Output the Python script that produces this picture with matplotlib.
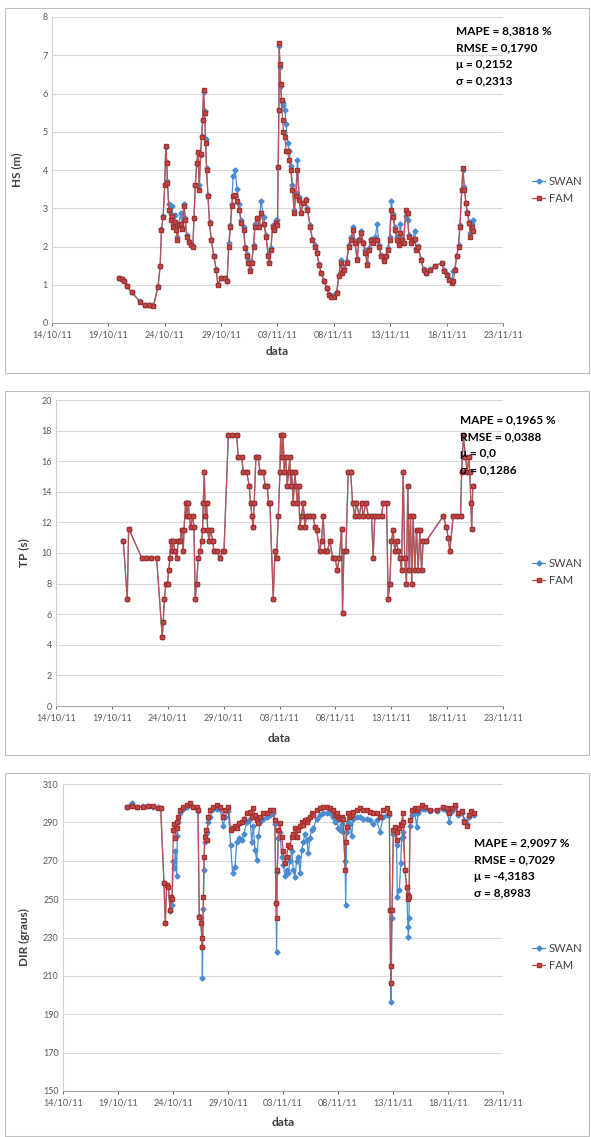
import matplotlib
matplotlib.use('Agg')
import matplotlib.pyplot as plt
import matplotlib.dates as mdates
from matplotlib.patches import Rectangle
import pandas as pd

plt.rcParams['font.family'] = ['Lato', 'DejaVu Sans']

# ---- data (days counted from 14/10/11) ----
hs_day = [5.94, 6.18, 6.41, 6.62, 7.06, 7.80, 8.24, 8.59, 9.00, 9.41, 9.59, 9.71, 9.86, 10.00,
          10.09, 10.18, 10.24, 10.36, 10.53, 10.65, 10.74, 10.88, 11.03, 11.12, 11.24, 11.41,
          11.53, 11.71, 11.82, 11.94, 12.12, 12.30, 12.50, 12.59, 12.71, 12.83, 12.94, 13.06,
          13.18, 13.27, 13.36, 13.44, 13.53, 13.62, 13.71, 13.83, 13.97, 14.12, 14.36, 14.56,
          14.71, 15.00, 15.30, 15.53, 15.68, 15.83, 15.94, 16.06, 16.24, 16.41, 16.62, 16.76,
          17.00, 17.12, 17.30, 17.41, 17.59, 17.71, 17.88, 18.00, 18.18, 18.38, 18.53, 18.77,
          18.98, 19.18, 19.27, 19.42, 19.56, 19.71, 19.86, 20.00, 20.06, 20.12, 20.15, 20.21,
          20.27, 20.36, 20.45, 20.53, 20.65, 20.77, 20.89, 21.04, 21.18, 21.33, 21.48, 21.62,
          21.77, 21.92, 22.06, 22.30, 22.50, 22.65, 22.89, 23.09, 23.30, 23.47, 23.68, 23.88,
          24.12, 24.36, 24.56, 24.77, 25.00, 25.24, 25.45, 25.59, 25.74, 25.89, 26.12, 26.33,
          26.53, 26.71, 26.86, 27.06, 27.24, 27.42, 27.59, 27.80, 27.95, 28.12, 28.30, 28.47,
          28.68, 28.83, 29.00, 29.18, 29.42, 29.59, 29.77, 29.95, 30.09, 30.24, 30.42, 30.59,
          30.74, 30.89, 31.04, 31.18, 31.36, 31.54, 31.65, 31.83, 32.00, 32.18, 32.30, 32.50,
          32.71, 32.95, 33.18, 33.53, 33.98, 34.56, 34.77, 35.00, 35.24, 35.45, 35.59, 35.74,
          35.89, 36.06, 36.18, 36.34, 36.44, 36.58, 36.71, 36.84, 37.00, 37.10, 37.25, 37.33]
hs_fam = [1.17, 1.15, 1.09, 0.97, 0.80, 0.56, 0.48, 0.46, 0.45, 0.95, 1.48, 2.43, 2.78, 3.61,
          4.63, 4.17, 3.65, 2.95, 2.70, 2.80, 2.52, 2.65, 2.43, 2.17, 2.55, 2.60,
          2.45, 3.05, 2.70, 2.26, 2.13, 2.04, 2.00, 2.74, 3.61, 4.17, 4.47, 3.48,
          4.43, 4.87, 5.31, 6.09, 5.48, 4.70, 4.00, 3.31, 2.61, 2.17, 1.74, 1.39,
          1.00, 1.17, 1.17, 1.09, 2.00, 2.52, 3.05, 3.31, 3.35, 3.18, 2.96, 2.61,
          2.43, 1.96, 1.74, 1.57, 1.35, 1.57, 2.00, 2.52, 2.74, 2.52, 2.87, 2.60,
          2.26, 1.74, 1.57, 1.91, 2.52, 2.43, 2.61, 2.55, 4.09, 5.57, 7.31, 6.78,
          6.26, 5.83, 5.30, 5.00, 4.87, 4.49, 4.49, 4.26, 4.00, 3.48, 2.87, 3.31,
          4.00, 3.22, 2.87, 3.13, 3.22, 2.96, 2.52, 2.17, 2.00, 1.83, 1.52, 1.30,
          1.09, 0.91, 0.74, 0.68, 0.68, 0.78, 1.22, 1.57, 1.30, 1.39, 1.57, 2.00,
          2.17, 2.43, 2.09, 1.65, 2.17, 2.35, 2.09, 1.83, 1.52, 1.91, 2.17, 2.09,
          2.17, 2.17, 2.00, 1.74, 1.61, 1.74, 1.91, 2.17, 2.96, 2.78, 2.43, 2.17,
          2.04, 2.35, 2.17, 2.09, 2.96, 2.87, 2.26, 2.09, 2.17, 2.20, 1.91, 2.00,
          1.65, 1.39, 1.30, 1.39, 1.48, 1.57, 1.35, 1.26, 1.13, 1.05, 1.09, 1.39,
          1.74, 2.00, 2.52, 3.48, 4.05, 3.48, 3.13, 2.87, 2.61, 2.26, 2.52, 2.40]
hs_swan = [1.17, 1.16, 1.10, 0.97, 0.80, 0.57, 0.48, 0.46, 0.46, 0.98, 1.50, 2.45, 2.80, 3.63,
           4.60, 4.20, 3.70, 3.10, 2.85, 3.05, 2.60, 2.82, 2.50, 2.25, 2.60, 2.87,
           2.52, 3.10, 2.75, 2.30, 2.15, 2.06, 2.02, 2.74, 3.60, 4.15, 4.45, 3.60,
           4.40, 4.90, 5.30, 6.05, 5.55, 4.80, 4.05, 3.35, 2.65, 2.20, 1.75, 1.40,
           1.02, 1.17, 1.18, 1.10, 2.10, 2.55, 3.10, 3.84, 4.00, 3.50, 3.10, 2.70,
           2.50, 2.00, 1.80, 1.65, 1.40, 1.60, 2.05, 2.60, 2.74, 2.55, 3.20, 2.78,
           2.30, 1.80, 1.60, 1.95, 2.55, 2.45, 2.70, 2.70, 4.09, 5.57, 7.25, 6.70,
           6.20, 5.80, 5.70, 5.74, 5.57, 5.20, 4.70, 4.50, 4.10, 3.60, 2.95, 3.40,
           4.26, 3.30, 2.90, 3.15, 3.25, 3.00, 2.55, 2.20, 2.05, 1.85, 1.55, 1.32,
           1.10, 0.92, 0.76, 0.70, 0.72, 0.80, 1.25, 1.65, 1.35, 1.45, 1.62, 2.05,
           2.25, 2.50, 2.15, 1.70, 2.20, 2.40, 2.12, 1.90, 1.58, 1.95, 2.20, 2.15,
           2.25, 2.60, 2.05, 1.78, 1.65, 1.76, 1.95, 2.25, 3.20, 2.85, 2.50, 2.25,
           2.10, 2.60, 2.20, 2.10, 2.80, 2.70, 2.30, 2.12, 2.20, 2.40, 1.95, 2.02,
           1.68, 1.40, 1.32, 1.40, 1.50, 1.58, 1.38, 1.28, 1.15, 1.10, 1.35, 1.42,
           1.76, 2.05, 2.55, 3.50, 4.00, 3.55, 3.15, 2.90, 2.65, 2.35, 2.60, 2.70]

tp_day = [6.02, 6.38, 6.50, 7.66, 8.05, 8.50, 9.00, 9.51, 9.60, 9.69, 9.84, 9.99, 10.08, 10.20,
          10.26, 10.38, 10.50, 10.64, 10.80, 10.94, 11.09, 11.24, 11.39, 11.45, 11.60, 11.69,
          11.84, 11.93, 12.05, 12.23, 12.34, 12.46, 12.58, 12.73, 12.88, 13.03, 13.12, 13.18,
          13.27, 13.36, 13.48, 13.57, 13.69, 13.84, 14.02, 14.13, 14.37, 14.67, 14.91, 15.03,
          15.42, 15.72, 16.16, 16.31, 16.61, 16.76, 17.06, 17.29, 17.41, 17.53, 17.65, 17.74,
          17.89, 18.10, 18.25, 18.55, 18.72, 18.90, 19.02, 19.14, 19.44, 19.59, 19.74, 19.89,
          20.04, 20.10, 20.24, 20.33, 20.42, 20.57, 20.69, 20.81, 20.93, 20.99, 21.08, 21.23,
          21.38, 21.47, 21.59, 21.71, 21.82, 21.97, 22.12, 22.27, 22.42, 22.72, 23.02, 23.17,
          23.32, 23.61, 23.76, 23.91, 24.06, 24.27, 24.51, 24.75, 24.96, 25.17, 25.35, 25.56,
          25.64, 25.76, 25.94, 26.15, 26.36, 26.54, 26.74, 26.89, 27.13, 27.34, 27.49, 27.73,
          27.94, 28.24, 28.38, 28.53, 28.83, 29.13, 29.28, 29.58, 29.72, 29.87, 30.02, 30.17,
          30.32, 30.47, 30.62, 30.77, 30.92, 31.07, 31.20, 31.36, 31.48, 31.60, 31.72, 31.84,
          31.96, 32.11, 32.26, 32.41, 32.56, 32.71, 32.86, 33.15, 34.64, 34.94, 35.09, 35.24,
          35.54, 35.84, 36.20, 36.30, 36.46, 36.63, 36.80, 36.94, 37.03, 37.12, 37.20, 37.30]
tp_fam = [10.8, 7.0, 11.6, 9.7, 9.7, 9.7, 9.7, 4.5, 5.5, 7.0, 8.0, 8.0, 8.9, 9.7,
          10.8, 10.1, 10.8, 10.1, 9.7, 10.8, 10.8, 11.5, 10.1, 11.5, 13.3, 12.4,
          13.3, 12.4, 11.7, 12.4, 11.7, 7.0, 8.0, 9.7, 10.1, 10.8, 11.5, 13.3,
          15.3, 12.4, 13.3, 11.5, 10.8, 11.5, 10.8, 10.1, 10.1, 9.7, 10.1, 10.1,
          17.7, 17.7, 17.7, 16.3, 16.3, 15.3, 15.3, 14.4, 13.3, 12.4, 11.7, 13.3,
          16.3, 16.3, 15.3, 15.3, 14.4, 14.4, 13.3, 13.3, 7.0, 10.1, 9.7, 12.4,
          15.3, 17.7, 16.3, 17.7, 15.3, 16.3, 14.4, 15.3, 16.3, 14.4, 15.3, 13.3,
          15.3, 14.4, 13.3, 14.4, 11.7, 12.4, 13.3, 11.7, 12.4, 12.4, 12.4, 11.7,
          11.5, 10.1, 10.8, 12.4, 10.1, 10.1, 10.8, 9.7, 9.7, 8.9, 9.7, 11.6,
          6.1, 10.1, 10.1, 15.3, 15.3, 13.3, 12.4, 13.3, 12.4, 13.3, 12.4, 13.3,
          12.4, 12.4, 9.7, 12.4, 12.4, 12.4, 13.3, 13.3, 7.0, 8.0, 10.8, 11.5,
          10.1, 10.8, 10.1, 9.7, 8.9, 15.3, 9.7, 8.0, 14.4, 8.9, 12.4, 8.0,
          12.4, 8.9, 11.5, 8.9, 11.5, 8.9, 10.8, 10.8, 12.4, 11.7, 11.0, 10.1,
          12.4, 12.4, 12.4, 15.3, 17.7, 16.3, 15.3, 16.3, 15.3, 13.3, 11.6, 14.4]
# SWAN and FAM periods sit on top of each other in the picture
tp_swan = list(tp_fam)

dir_day = [5.79, 6.24, 6.70, 7.30, 7.76, 8.21, 8.67, 8.88, 9.18, 9.30, 9.42, 9.58, 9.73, 9.82,
           9.91, 10.03, 10.12, 10.21, 10.33, 10.39, 10.48, 10.64, 10.94, 11.24, 11.55, 11.85,
           12.15, 12.27, 12.39, 12.52, 12.64, 12.67, 12.76, 12.82, 12.88, 12.97, 13.06, 13.21,
           13.36, 13.67, 13.97, 14.27, 14.58, 14.73, 15.03, 15.24, 15.42, 15.64, 15.79, 16.03,
           16.24, 16.45, 16.70, 17.00, 17.15, 17.30, 17.45, 17.61, 17.76, 17.91, 18.21, 18.52,
           18.82, 19.12, 19.27, 19.36, 19.42, 19.48, 19.58, 19.73, 19.88, 20.03, 20.18, 20.33,
           20.48, 20.64, 20.79, 20.94, 21.09, 21.24, 21.39, 21.55, 21.70, 21.85, 22.00, 22.15,
           22.30, 22.45, 22.61, 22.76, 23.06, 23.36, 23.67, 23.97, 24.27, 24.58, 24.73, 24.88,
           25.03, 25.18, 25.33, 25.48, 25.64, 25.70, 25.79, 25.94, 26.09, 26.24, 26.39, 26.70,
           27.00, 27.30, 27.61, 27.91, 28.21, 28.52, 28.82, 29.12, 29.42, 29.67, 29.73, 29.79,
           29.82, 29.91, 30.03, 30.18, 30.33, 30.39, 30.58, 30.70, 30.79, 30.88, 30.94, 31.09,
           31.24, 31.36, 31.39, 31.45, 31.55, 31.70, 32.00, 32.15, 32.30, 32.61, 32.91, 33.36,
           33.97, 34.58, 34.88, 35.12, 35.33, 35.64, 35.94, 36.30, 36.50, 36.70, 36.90, 37.10,
           37.40]
dir_fam = [298.2, 298.5, 298.2, 298.0, 298.5, 298.5, 297.5, 297.3, 258.3, 237.4, 257.4, 256.5, 244.4, 251.0,
           250.0, 286.0, 289.0, 282.0, 287.0, 290.0, 293.0, 296.5, 298.2, 299.0, 300.0, 298.2,
           298.2, 296.5, 240.9, 237.4, 230.0, 225.0, 251.3, 272.0, 282.6, 286.0, 280.8, 293.0,
           296.5, 298.2, 299.0, 298.2, 293.0, 296.5, 298.2, 286.0, 287.0, 288.0, 287.0, 289.5,
           290.4, 292.0, 294.7, 295.6, 293.0, 297.3, 294.0, 291.0, 289.5, 293.0, 294.7, 294.7,
           296.5, 296.5, 291.2, 247.8, 240.0, 265.2, 286.0, 289.5, 282.6, 275.0, 268.7, 272.0,
           278.0, 277.4, 282.6, 284.0, 287.0, 282.6, 286.0, 288.0, 290.0, 288.6, 291.2, 290.0,
           292.0, 293.0, 294.7, 294.0, 296.5, 297.3, 298.2, 298.2, 297.3, 296.5, 294.0, 294.7,
           293.0, 292.0, 293.0, 292.0, 265.2, 280.0, 287.8, 294.7, 293.0, 294.0, 295.6, 296.5,
           297.3, 296.5, 296.5, 295.6, 294.7, 294.7, 293.0, 296.5, 297.3, 294.7, 244.4, 206.2,
           215.0, 244.4, 286.0, 287.8, 280.8, 285.0, 287.0, 289.0, 288.6, 294.7, 290.0, 265.2,
           256.5, 252.0, 250.0, 251.3, 291.2, 296.5, 297.3, 296.5, 297.3, 299.0, 298.2, 296.5,
           296.5, 298.2, 297.3, 295.0, 297.3, 299.0, 295.0, 296.0, 290.0, 288.0, 294.0, 296.0,
           295.0]
dir_swan = [298.2, 300.0, 298.2, 298.5, 298.5, 298.0, 297.8, 297.3, 258.3, 237.4, 257.4, 256.5, 244.0, 251.0,
            247.0, 270.0, 266.0, 275.0, 262.0, 283.0, 290.0, 295.0, 297.0, 298.0, 299.0, 298.0,
            297.5, 296.0, 241.0, 240.0, 225.0, 208.8, 245.0, 265.0, 280.0, 284.0, 285.0, 290.0,
            293.0, 297.0, 297.0, 297.0, 288.0, 293.0, 296.0, 278.0, 263.5, 267.0, 280.0, 282.0,
            281.0, 284.0, 290.0, 292.0, 280.0, 288.0, 275.6, 270.4, 283.0, 290.0, 292.0, 293.0,
            294.0, 295.0, 289.0, 248.0, 222.7, 264.0, 282.0, 285.0, 272.0, 268.0, 262.0, 265.0,
            263.5, 270.0, 275.0, 265.2, 261.7, 270.0, 272.0, 263.5, 275.6, 280.0, 284.0, 280.8,
            273.9, 282.0, 286.0, 286.9, 292.0, 294.0, 294.7, 295.0, 295.0, 293.0, 290.4, 291.0,
            286.9, 286.0, 289.0, 285.0, 270.0, 247.0, 285.0, 290.0, 289.0, 283.0, 292.0, 293.0,
            293.0, 292.0, 292.0, 291.0, 289.0, 291.0, 285.0, 293.0, 294.0, 294.0, 244.4, 206.2,
            196.6, 240.0, 284.0, 286.0, 278.0, 251.3, 254.8, 268.7, 282.0, 285.0, 282.6, 265.0,
            256.0, 235.7, 230.5, 240.0, 288.0, 294.0, 295.0, 287.8, 295.0, 297.0, 297.0, 296.0,
            296.0, 297.0, 296.0, 290.4, 296.0, 298.0, 294.0, 295.0, 291.0, 289.0, 293.0, 295.0,
            294.0]

panels = [
    dict(day=hs_day, swan=hs_swan, fam=hs_fam, ylabel='HS (m)', ylim=(0, 8), step=1,
         stats=['MAPE = 8,3818 %', 'RMSE = 0,1790', '\u03bc = 0,2152', '\u03c3 = 0,2313']),
    dict(day=tp_day, swan=tp_swan, fam=tp_fam, ylabel='TP (s)', ylim=(0, 20), step=2,
         stats=['MAPE = 0,1965 %', 'RMSE = 0,0388', '\u03bc = 0,0', '\u03c3 = 0,1286']),
    dict(day=dir_day, swan=dir_swan, fam=dir_fam, ylabel='DIR (graus)', ylim=(150, 310), step=20,
         stats=['MAPE = 2,9097 %', 'RMSE = 0,7029', '\u03bc = -4,3183', '\u03c3 = 8,8983']),
]

# pixel layout of the three chart boxes (left, top, right, bottom)
W, H = 591, 1137
frames = [(5, 8, 589, 373), (5, 391, 589, 755), (5, 773, 589, 1136)]
plots = [(52, 17, 503, 323), (56, 400, 503, 706), (63, 784, 503, 1091)]
stat_xy = [(456, 31), (460, 420), (474, 843)]
legend_y = [190, 572, 957]
label_x = [17, 24, 24]
data_y = [352, 739, 1123]

swan_c = '#4A8CD0'
fam_c = '#C0504D'
grid_c = '#D9D9D9'
text_c = '#595959'

fig = plt.figure(figsize=(W / 100, H / 100), dpi=100)
start = pd.Timestamp('2011-10-14')
ticks = pd.date_range('2011-10-14', '2011-11-23', freq='5D')

for p, fr, pl, sxy, ly, lx, dy in zip(panels, frames, plots, stat_xy, legend_y, label_x, data_y):
    l, t, r, b = fr
    fig.patches.append(Rectangle((l / W, 1 - b / H), (r - l) / W, (b - t) / H,
                                 transform=fig.transFigure, fill=False,
                                 edgecolor='#BFBFBF', linewidth=0.8))
    l, t, r, b = pl
    ax = fig.add_axes([l / W, 1 - b / H, (r - l) / W, (b - t) / H])
    x = start + pd.to_timedelta(p['day'], unit='D')
    ax.plot(x, p['swan'], color=swan_c, lw=0.9, marker='D', ms=2.6, mec=swan_c, label='SWAN')
    ax.plot(x, p['fam'], color=fam_c, lw=0.9, marker='s', ms=2.6, mec='#A5302D', mfc=fam_c, label='FAM')

    lo, hi = p['ylim']
    ax.set_ylim(lo, hi)
    ax.set_yticks(range(lo, hi + 1, p['step']))
    ax.set_xlim(ticks[0], ticks[-1])
    ax.set_xticks(ticks)
    ax.xaxis.set_major_formatter(mdates.DateFormatter('%d/%m/%y'))
    ax.grid(axis='y', color=grid_c, lw=0.8)
    ax.set_axisbelow(True)
    for s in ['top', 'right']:
        ax.spines[s].set_visible(False)
    ax.spines['left'].set_color('#D0D0D0')
    ax.spines['bottom'].set_color('#A6A6A6')
    ax.tick_params(axis='both', labelsize=6.5, colors=text_c, length=2.5, width=0.6, pad=3)
    ax.tick_params(axis='y', length=0)

    fig.text(lx / W, 1 - ((t + b) / 2) / H, p['ylabel'], rotation=90, ha='center', va='center',
             fontsize=8.5, fontweight='bold', color='#404040')
    fig.text(((l + r) / 2) / W, 1 - dy / H, 'data', ha='center', va='center',
             fontsize=8.5, fontweight='bold', color='#404040')

    for i, line in enumerate(p['stats']):
        fig.text(sxy[0] / W, 1 - (sxy[1] + 16.7 * i) / H, line, ha='left', va='center',
                 fontsize=8.5, fontweight='bold', color='black')

    ax.legend(loc='center left', bbox_to_anchor=(522 / W, 1 - ly / H),
              bbox_transform=fig.transFigure, frameon=False, fontsize=8,
              handlelength=1.2, handletextpad=0.3, labelspacing=0.5, labelcolor='#404040')

fig.savefig('out.png', dpi=100)
